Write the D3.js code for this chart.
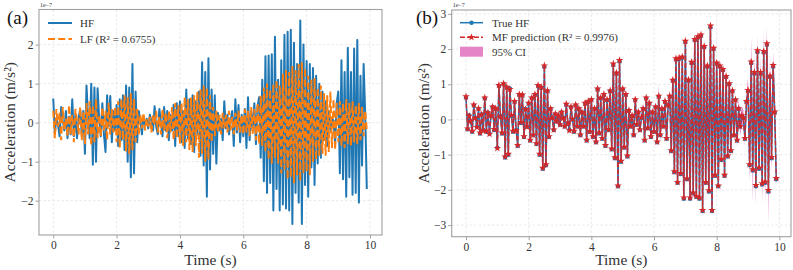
<!DOCTYPE html>
<html><head><meta charset="utf-8">
<script src="https://cdn.jsdelivr.net/npm/d3@7"></script>
<style>
html,body{margin:0;padding:0;background:#fff;}
svg text{font-family:"Liberation Serif","Times New Roman",serif;}
</style></head>
<body><svg id="c" width="793" height="270"></svg>
<script>
// ---------- DATA (units of 1e-7 m/s², sampled every 0.05 s) ----------
const dt = 0.05;
const hf = [0.62,-0.28,0.12,-0.05,-0.35,0.40,0.05,-0.20,0.30,-0.40,
0.15,-0.30,0.60,-0.35,0.20,-0.40,0.10,0.35,-0.30,0.30,
-0.80,0.95,0.10,-0.40,1.00,-1.08,0.90,-1.00,0.88,0.10,
-0.35,0.50,-0.30,-0.75,0.70,-0.10,0.68,-0.50,0.30,-0.20,
0.45,-0.60,0.60,-0.45,0.70,-0.70,0.95,-1.00,0.90,-1.40,
1.50,-1.30,0.80,-0.50,0.30,0.05,-0.30,0.15,-0.05,0.10,
-0.15,0.20,0.05,-0.20,0.42,-0.10,-0.30,0.35,0.00,-0.35,
0.40,-0.20,0.30,-0.45,0.20,-0.20,0.45,-0.60,0.50,-0.35,
0.55,-0.50,0.30,-0.65,0.85,-0.40,0.60,-0.55,0.70,-0.75,
0.55,-0.30,0.80,-0.85,1.55,-1.10,1.30,-1.90,1.65,-1.20,
0.85,-0.80,0.70,-1.05,0.25,-0.20,0.10,-0.45,0.55,-0.15,
0.20,-0.30,0.05,0.30,-0.60,0.60,-0.25,0.45,-0.50,0.20,
-0.35,0.35,-0.65,0.65,-0.45,0.30,-0.20,0.50,-0.55,0.40,
0.65,-0.90,1.10,-1.50,1.70,-1.80,1.72,-1.55,1.75,-2.25,
2.20,-1.70,1.10,-2.25,1.60,-2.10,2.25,-2.20,2.33,-2.25,
2.38,-2.60,2.05,-1.80,1.50,-2.05,2.62,-2.60,2.00,-1.60,
1.58,-1.90,1.50,-1.15,1.40,-1.60,1.20,-1.05,1.00,-0.90,
0.80,-0.45,0.55,-0.60,0.30,-0.20,0.10,0.05,-0.55,0.50,
0.80,-1.30,1.60,-1.45,1.30,-1.90,1.92,-1.40,1.30,-1.85,
1.90,-1.80,2.12,-2.05,1.20,-1.10,1.50,0.20,-1.70];

const lf = [0.30,-0.40,0.35,-0.10,0.25,-0.45,0.40,-0.20,0.10,-0.35,0.45,-0.30,0.20,-0.50,0.35,0.05,-0.30,0.40,-0.45,0.30,
-0.55,0.50,-0.30,0.55,-0.60,0.45,-0.50,0.60,-0.40,0.20,-0.35,0.40,-0.20,0.30,-0.45,0.50,-0.30,0.35,-0.25,0.40,
-0.50,0.55,-0.65,0.60,-0.45,0.70,-0.75,0.65,-0.80,0.75,-0.70,0.60,-0.50,0.35,-0.30,0.20,-0.15,0.25,-0.20,0.10,
-0.10,0.15,-0.25,0.20,-0.05,0.30,-0.25,0.15,-0.30,0.35,-0.20,0.25,-0.40,0.30,-0.25,0.40,-0.45,0.50,-0.40,0.45,
-0.55,0.50,-0.60,0.65,-0.50,0.60,-0.70,0.65,-0.75,0.70,-0.60,0.80,-0.90,0.85,-0.80,0.95,-1.00,0.90,-0.95,0.70,
-0.50,0.40,-0.35,0.30,-0.25,0.20,-0.30,0.25,-0.15,0.20,-0.25,0.30,-0.20,0.15,-0.30,0.25,-0.20,0.30,-0.25,0.20,
-0.30,0.35,-0.25,0.30,-0.35,0.40,-0.30,0.35,-0.45,0.50,
-0.55,0.70,-0.60,0.90,-0.75,1.00,-0.95,0.85,-1.05,1.00,
-0.90,1.10,-1.05,0.95,-1.30,1.25,-1.20,1.35,-1.45,1.30,
-1.40,1.45,-1.55,1.35,-1.35,1.50,-1.50,1.55,-1.30,1.40,
-1.25,1.20,-1.35,1.10,-1.00,1.15,-0.95,0.90,-0.85,0.95,
-0.80,0.75,-0.85,0.70,-0.75,0.80,-0.65,0.60,-0.70,0.50,
-0.50,0.55,-0.60,0.50,-0.65,0.60,-0.55,0.50,-0.60,0.55,-0.50,0.45,-0.55,0.50,-0.45,0.40,-0.35,0.30,-0.20];

const mf = [0.65,-0.26,0.10,-0.04,-0.33,0.42,0.04,-0.22,0.31,-0.38,
0.14,-0.32,0.62,-0.33,0.19,-0.41,0.12,0.36,-0.28,0.31,
-0.82,0.97,0.08,-0.38,1.02,-1.06,0.92,-0.98,0.86,0.12,
-0.33,0.52,-0.31,-0.73,0.72,-0.08,0.70,-0.48,0.29,-0.21,
0.47,-0.58,0.62,-0.44,0.72,-0.68,0.97,-0.98,0.92,-1.38,
1.53,-1.28,0.82,-0.48,0.31,0.04,-0.29,0.16,-0.04,0.11,
-0.14,0.21,0.04,-0.19,0.44,-0.09,-0.31,0.36,0.01,-0.33,
0.42,-0.19,0.31,-0.43,0.21,-0.19,0.47,-0.58,0.52,-0.34,
0.57,-0.48,0.31,-0.63,0.87,-0.38,0.62,-0.53,0.72,-0.73,
0.57,-0.29,0.82,-0.83,1.58,-1.08,1.33,-1.88,1.68,-1.18,
0.87,-0.78,0.72,-1.03,0.26,-0.19,0.11,-0.43,0.57,-0.14,
0.21,-0.29,0.06,0.31,-0.58,0.62,-0.24,0.47,-0.48,0.21,
-0.34,0.36,-0.63,0.67,-0.43,0.31,-0.19,0.52,-0.53,0.42,
0.67,-0.88,1.12,-1.48,1.73,-1.78,1.75,-1.53,1.78,-2.22,
2.23,-1.68,1.13,-2.22,1.63,-2.08,2.28,-2.18,2.36,-2.22,
2.41,-2.58,2.08,-1.78,1.53,-2.02,2.66,-2.58,2.03,-1.58,
1.61,-1.88,1.53,-1.13,1.43,-1.58,1.23,-1.03,1.02,-0.88,
0.82,-0.44,0.56,-0.58,0.31,-0.19,0.11,0.06,-0.53,0.52,
0.83,-1.28,1.64,-1.42,1.34,-1.87,1.96,-1.37,1.34,-1.82,
1.94,-1.77,2.16,-2.01,1.24,-1.07,1.54,0.22,-1.67];

const ciHalf = [0.12,0.10,0.09,0.09,0.10,0.10,0.09,0.09,0.10,0.10,
0.09,0.10,0.12,0.10,0.09,0.10,0.09,0.10,0.10,0.11,
0.15,0.20,0.12,0.12,0.15,0.16,0.14,0.14,0.13,0.10,
0.10,0.11,0.10,0.12,0.12,0.10,0.12,0.11,0.10,0.10,
0.10,0.11,0.12,0.11,0.12,0.12,0.14,0.15,0.15,0.18,
0.22,0.18,0.14,0.12,0.10,0.10,0.10,0.09,0.09,0.09,
0.09,0.09,0.09,0.10,0.12,0.09,0.10,0.10,0.09,0.10,
0.10,0.10,0.10,0.11,0.10,0.10,0.11,0.12,0.12,0.11,
0.12,0.12,0.11,0.13,0.14,0.12,0.13,0.13,0.14,0.14,
0.13,0.12,0.15,0.15,0.18,0.16,0.17,0.20,0.20,0.18,
0.15,0.14,0.13,0.14,0.10,0.10,0.10,0.11,0.12,0.10,
0.10,0.10,0.10,0.11,0.12,0.12,0.11,0.12,0.12,0.11,
0.12,0.14,0.20,0.35,0.18,0.12,0.12,0.13,0.14,0.14,
0.15,0.16,0.16,0.18,0.18,0.18,0.17,0.17,0.18,0.20,
0.20,0.18,0.16,0.20,0.18,0.19,0.20,0.20,0.21,0.20,
0.22,0.22,0.20,0.18,0.18,0.20,0.24,0.22,0.20,0.18,
0.18,0.18,0.17,0.16,0.17,0.18,0.16,0.16,0.15,0.15,
0.15,0.16,0.18,0.22,0.30,0.28,0.25,0.22,0.20,0.25,
0.35,0.50,0.70,0.95,0.55,0.60,0.45,0.40,0.50,0.60,
0.55,0.65,0.50,0.95,0.60,0.45,0.40,0.30,0.25];

const time = hf.map((_, i) => +(i * dt).toFixed(2));
const xTicks = [0, 2, 4, 6, 8, 10];
const yTicksA = [-2, -1, 0, 1, 2];
const yTicksB = [-3, -2, -1, 0, 1, 2, 3];
const legendA = ["HF", "LF (R² = 0.6755)"];
const legendB = ["True HF", "MF prediction (R² = 0.9976)", "95% CI"];

// ---------- DRAWING ----------
const svg = d3.select("#c");
const C = {blue:"#1f77b4", orange:"#ff7f0e", red:"#d62728", pink:"#e377c2", spine:"#a0a0a0", grid:"#e3e3e3", txt:"#333"};
const FS = {tick:"11.5px", label:"15.5px", legend:"11px", panel:"19px"};

function fmt(v){ return v < 0 ? "\u2212" + Math.abs(v) : String(v); }

function panel(o){
  const g = svg.append("g");
  const x = d3.scaleLinear().domain(o.xd).range([o.x0, o.x1]);
  const y = d3.scaleLinear().domain(o.yd).range([o.y1, o.y0]);
  g.append("g").selectAll("line").data(xTicks).join("line")
    .attr("x1", d=>x(d)).attr("x2", d=>x(d)).attr("y1", o.y0).attr("y2", o.y1)
    .attr("stroke", C.grid).attr("stroke-width", 0.8).attr("stroke-dasharray", "2.5,2");
  g.append("g").selectAll("line").data(o.yt).join("line")
    .attr("y1", d=>y(d)).attr("y2", d=>y(d)).attr("x1", o.x0).attr("x2", o.x1)
    .attr("stroke", C.grid).attr("stroke-width", 0.8).attr("stroke-dasharray", "2.5,2");
  const cid = "clip" + o.id;
  svg.append("clipPath").attr("id", cid).append("rect")
    .attr("x", o.x0).attr("y", o.y0).attr("width", o.x1-o.x0).attr("height", o.y1-o.y0);
  const plot = g.append("g").attr("clip-path", `url(#${cid})`);
  const ax = g.append("g").attr("transform", `translate(0,${o.y1})`)
    .call(d3.axisBottom(x).tickValues(xTicks).tickSize(3.5).tickPadding(2.5).tickFormat(fmt));
  const ay = g.append("g").attr("transform", `translate(${o.x0},0)`)
    .call(d3.axisLeft(y).tickValues(o.yt).tickSize(3.5).tickPadding(2).tickFormat(fmt));
  [ax, ay].forEach(a => {
    a.select(".domain").remove();
    a.selectAll(".tick line").attr("stroke", C.spine);
    a.selectAll(".tick text").attr("fill", C.txt).style("font-size", FS.tick)
      .style("font-family", '"Liberation Serif",serif');
  });
  g.append("rect").attr("x", o.x0).attr("y", o.y0).attr("width", o.x1-o.x0).attr("height", o.y1-o.y0)
    .attr("fill", "none").attr("stroke", C.spine).attr("stroke-width", 1.1);
  g.append("text").attr("x", (o.x0+o.x1)/2).attr("y", 265).attr("text-anchor", "middle")
    .attr("fill", C.txt).style("font-size", FS.label).text("Time (s)");
  g.append("text").attr("transform", `translate(${o.ylx},${(o.y0+o.y1)/2}) rotate(-90)`)
    .attr("text-anchor", "middle").attr("fill", C.txt).style("font-size", FS.label).text("Acceleration (m/s²)");
  g.append("text").attr("x", o.x0+1).attr("y", 7).attr("fill", C.txt).style("font-size", "6px").text("1e\u22127");
  g.append("text").attr("x", o.px).attr("y", 24).attr("fill", "#111").style("font-size", FS.panel).text(o.plabel);
  return {g, x, y, plot};
}

// Panel (a)
const A = panel({id:"a", x0:39, x1:382, y0:9.5, y1:235, xd:[-0.45,10.38], yd:[-2.88,2.9], yt:yTicksA, ylx:15, px:7, plabel:"(a)"});
A.plot.append("path").datum(hf)
  .attr("d", d3.line().x((d,i)=>A.x(time[i])).y(d=>A.y(d)))
  .attr("fill","none").attr("stroke", C.blue).attr("stroke-width", 2).attr("stroke-linejoin","round");
A.plot.append("path").datum(lf)
  .attr("d", d3.line().x((d,i)=>A.x(time[i])).y(d=>A.y(d)))
  .attr("fill","none").attr("stroke", C.orange).attr("stroke-width", 2).attr("stroke-dasharray","7,3.2");
{
  const lg = A.g.append("g");
  lg.append("line").attr("x1",48).attr("x2",72).attr("y1",23).attr("y2",23).attr("stroke",C.blue).attr("stroke-width",2);
  lg.append("line").attr("x1",48).attr("x2",72).attr("y1",39).attr("y2",39).attr("stroke",C.orange).attr("stroke-width",2).attr("stroke-dasharray","7,3.2");
  lg.selectAll("text").data(legendA).join("text").attr("x",80).attr("y",(d,i)=>27+i*16)
    .attr("fill",C.txt).style("font-size",FS.legend).text(d=>d);
}

// Panel (b)
const B = panel({id:"b", x0:451.7, x1:791, y0:10, y1:236.7, xd:[-0.456,10.37], yd:[-3.33,3.11], yt:yTicksB, ylx:429, px:416, plabel:"(b)"});
B.plot.append("path").datum(mf)
  .attr("d", d3.area().x((d,i)=>B.x(time[i])).y0((d,i)=>B.y(d-ciHalf[i])).y1((d,i)=>B.y(d+ciHalf[i])))
  .attr("fill", C.pink).attr("fill-opacity", 0.85).attr("stroke","none");
B.plot.append("path").datum(hf)
  .attr("d", d3.line().x((d,i)=>B.x(time[i])).y(d=>B.y(d)))
  .attr("fill","none").attr("stroke", C.blue).attr("stroke-width", 1.5);
B.plot.append("g").selectAll("circle").data(hf).join("circle")
  .attr("cx",(d,i)=>B.x(time[i])).attr("cy",d=>B.y(d)).attr("r",2.2).attr("fill",C.blue);
B.plot.append("path").datum(mf)
  .attr("d", d3.line().x((d,i)=>B.x(time[i])).y(d=>B.y(d)))
  .attr("fill","none").attr("stroke", C.red).attr("stroke-width", 1.5).attr("stroke-dasharray","5,2").attr("stroke-opacity",0.9);
const star = d3.symbol().type(d3.symbolStar).size(18);
B.plot.append("g").selectAll("path").data(mf).join("path")
  .attr("transform",(d,i)=>`translate(${B.x(time[i])},${B.y(d)})`).attr("d", star).attr("fill", C.red);
{
  const lg = B.g.append("g");
  lg.append("line").attr("x1",460).attr("x2",483).attr("y1",22.7).attr("y2",22.7).attr("stroke",C.blue).attr("stroke-width",1.5);
  lg.append("circle").attr("cx",471.5).attr("cy",22.7).attr("r",2.2).attr("fill",C.blue);
  lg.append("line").attr("x1",460).attr("x2",483).attr("y1",37.3).attr("y2",37.3).attr("stroke",C.red).attr("stroke-width",1.5).attr("stroke-dasharray","5,2");
  lg.append("path").attr("transform","translate(471.5,37.3)").attr("d",star).attr("fill",C.red);
  lg.append("rect").attr("x",460).attr("y",46.7).attr("width",23).attr("height",10).attr("fill",C.pink).attr("fill-opacity",0.9);
  lg.selectAll("text").data(legendB).join("text").attr("x",492).attr("y",(d,i)=>26.6+i*14.5)
    .attr("fill",C.txt).style("font-size",FS.legend).text(d=>d);
}
</script></body></html>
